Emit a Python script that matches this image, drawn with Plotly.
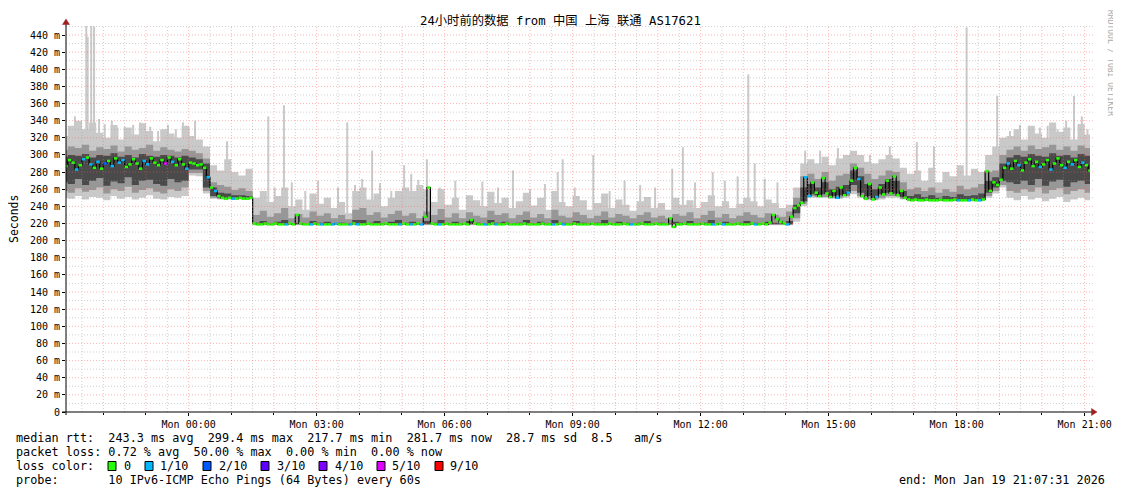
import pandas as pd
import plotly.graph_objects as go

# ---------------- data ----------------
SLOT0 = "2026-01-18 21:00"            # first slot (10-min smoke, 5-min median)
RANGE_START = "2026-01-18 21:07:31"
RANGE_END = "2026-01-19 21:07:31"

# smoke bands, one value per 10-minute slot (ms)
smoke_min = [250, 249, 252, 248, 251, 250, 247, 252, 249, 251, 248, 250, 253, 249, 248, 251, 250, 252, 276,
             275, 255, 249, 248, 248, 248, 248, 248,
             218, 218, 218, 218, 218, 218, 218, 218, 218, 218,
             218, 218, 218, 218, 218, 218, 218, 218, 218, 218,
             218, 218, 218, 218, 218, 218, 218, 218, 218, 218,
             218, 218, 218, 218, 218, 218, 218, 218, 218, 218,
             218, 218, 218, 218, 218, 218, 218, 218, 218, 218,
             218, 218, 218, 218, 218, 218, 218, 218, 218, 218,
             218, 218, 218, 218, 218, 218, 218, 218, 218, 218,
             218, 218, 218, 218, 218, 218,
             222, 240, 250, 250, 250, 249, 249, 250, 254, 250, 247, 247, 248, 250, 250, 248,
             246, 246, 246, 246, 246, 246, 246, 246, 246, 246, 246,
             250, 255, 262,
             250, 247, 252, 248, 250, 246, 249, 251, 245, 248, 250, 247]
smoke_lo2 = [258, 256, 261, 257, 259, 262, 255, 260, 258, 263, 256, 259, 261, 257, 255, 260, 258, 262, 279,
             279, 258, 250, 249, 249, 249, 249, 249,
             219, 219, 219, 219, 219, 219, 219, 219, 219, 219,
             219, 219, 219, 219, 219, 219, 219, 219, 219, 219,
             219, 219, 219, 219, 219, 219, 219, 219, 219, 219,
             219, 219, 219, 219, 219, 219, 219, 219, 219, 219,
             219, 219, 219, 219, 219, 219, 219, 219, 219, 219,
             219, 219, 219, 219, 219, 219, 219, 219, 219, 219,
             219, 219, 219, 219, 219, 219, 219, 219, 219, 219,
             219, 219, 219, 219, 219, 219,
             226, 243, 252, 251, 251, 250, 250, 252, 258, 252, 249, 248, 250, 252, 252, 249,
             247, 247, 247, 247, 247, 247, 247, 247, 247, 247, 247,
             252, 258, 265,
             258, 256, 260, 257, 262, 255, 259, 261, 254, 258, 260, 256]
smoke_lo3 = [268, 266, 272, 265, 270, 273, 264, 269, 267, 274, 265, 270, 271, 266, 264, 272, 268, 270, 283,
             283, 262, 252, 250, 250, 250, 250, 250,
             219, 219, 219, 219, 219, 219, 219, 219, 219, 219,
             219, 219, 219, 219, 219, 219, 219, 219, 219, 219,
             219, 219, 219, 219, 219, 219, 219, 219, 219, 219,
             219, 219, 219, 219, 219, 219, 219, 219, 219, 219,
             219, 219, 219, 219, 219, 219, 219, 219, 219, 219,
             219, 219, 219, 219, 219, 219, 219, 219, 219, 219,
             219, 219, 219, 219, 219, 219, 219, 219, 219, 219,
             219, 219, 219, 219, 219, 219,
             232, 246, 254, 253, 254, 252, 253, 254, 265, 256, 252, 250, 254, 256, 255, 251,
             247, 248, 247, 248, 247, 248, 247, 248, 247, 248, 248,
             256, 262, 270,
             268, 266, 270, 265, 272, 264, 269, 271, 263, 268, 270, 266]
smoke_hi3 = [298, 300, 299, 301, 297, 300, 299, 302, 298, 300, 297, 301, 299, 298, 300, 299, 297, 299, 297,
             295, 290, 262, 256, 255, 253, 253, 252,
             221, 223, 220, 222, 224, 220, 221, 220, 223, 221,
             222, 220, 221, 220, 224, 224, 221, 223, 220, 222,
             224, 221, 222, 220, 223, 221, 224, 220, 222, 220,
             223, 221, 220, 224, 221, 222, 220, 221, 224, 220,
             222, 220, 224, 221, 220, 223, 221, 220, 221, 224,
             220, 222, 221, 220, 221, 223, 220, 221, 220, 222,
             221, 223, 220, 221, 224, 220, 222, 220, 221, 223,
             221, 220, 222, 221, 220, 223,
             242, 262, 266, 262, 268, 260, 263, 265, 282, 275, 266, 260, 266, 272, 270, 258,
             252, 254, 251, 253, 250, 252, 251, 254, 252, 253, 255,
             270, 274, 290,
             297, 300, 298, 301, 299, 298, 302, 299, 300, 297, 301, 299]
smoke_hi2 = [306, 310, 308, 312, 305, 309, 307, 311, 304, 310, 306, 308, 312, 305, 309, 306, 304, 307, 305,
             302, 296, 268, 265, 263, 259, 261, 258,
             230, 235, 228, 232, 238, 226, 231, 227, 234, 229,
             232, 226, 230, 225, 236, 238, 230, 233, 227, 231,
             235, 229, 232, 226, 234, 230, 237, 227, 232, 226,
             233, 229, 227, 235, 230, 232, 226, 230, 234, 227,
             231, 226, 236, 229, 227, 233, 230, 226, 229, 234,
             227, 231, 229, 226, 230, 233, 227, 229, 226, 231,
             229, 233, 226, 230, 235, 227, 231, 226, 229, 233,
             230, 227, 232, 230, 228, 234,
             250, 275, 278, 272, 280, 270, 276, 278, 290, 285, 278, 272, 276, 282, 280, 268,
             260, 262, 258, 262, 256, 260, 257, 264, 260, 262, 266,
             280, 282, 300,
             306, 310, 305, 311, 307, 309, 312, 306, 310, 305, 311, 308]
smoke_max = [322, 334, 340, 330, 338, 326, 320, 335, 318, 332, 324, 337, 328, 316, 330, 325, 320, 334, 322,
             318, 310, 288, 282, 295, 280, 276, 284,
             250, 258, 245, 252, 262, 240, 248, 236, 255, 243,
             250, 238, 245, 232, 258, 262, 248, 255, 240, 250,
             258, 262, 258, 265, 260, 245, 260, 242, 250, 236,
             253, 247, 240, 257, 244, 250, 238, 246, 256, 241,
             250, 236, 258, 245, 240, 252, 247, 236, 244, 255,
             238, 248, 242, 235, 246, 251, 238, 244, 236, 250,
             242, 247, 238, 245, 253, 240, 246, 238, 243, 250,
             246, 240, 248, 244, 238, 242,
             262, 290, 295, 290, 298, 288, 296, 300, 305, 300, 292, 290, 295, 300, 296, 285,
             278, 282, 270, 285, 268, 280, 275, 288, 276, 284, 280,
             300, 310, 320,
             322, 330, 318, 334, 325, 320, 338, 327, 332, 318, 336, 324]

# median rtt, one value per 5-minute slot (ms)
median_rtt = [290, 287, 294, 291, 283, 288, 295, 297, 289, 285, 292, 284, 290, 293, 287, 296, 291, 294, 286, 289,
              295, 290, 284, 293, 289, 296, 291, 288, 294, 290, 297, 292, 288, 295, 289, 284, 291,
              290, 288, 289, 285, 274, 262, 258, 252, 250, 249, 250, 249, 249, 250, 249, 249, 250,
              220, 219, 219, 220, 219, 219, 220, 219, 219, 219,
              220, 219, 230, 220, 219, 219, 219, 220, 219, 219,
              219, 219, 219, 220, 219, 219, 219, 219, 220, 219,
              219, 219, 220, 219, 219, 219, 219, 220, 219, 219,
              219, 219, 220, 219, 219, 219, 220, 219, 228, 262,
              220, 219, 219, 219, 220, 219, 219, 219, 219, 220,
              219, 224, 220, 219, 219, 219, 219, 220, 219, 219,
              219, 220, 219, 219, 219, 219, 220, 219, 219, 219,
              219, 220, 219, 219, 219, 219, 220, 219, 219, 219,
              220, 219, 219, 219, 219, 220, 219, 219, 219, 219,
              220, 219, 219, 219, 220, 219, 219, 219, 219, 220,
              219, 219, 219, 220, 219, 219, 219, 226, 216, 219,
              219, 220, 219, 219, 219, 219, 220, 219, 219, 219,
              219, 220, 219, 219, 219, 219, 220, 219, 219, 219,
              220, 219, 219, 220, 219, 221, 230, 225, 222, 220, 219,
              228, 238, 241, 244, 274, 252, 268, 256, 252, 273, 255, 251, 258, 250, 262, 253, 256, 270,
              285, 272, 252, 249, 266, 248, 251, 262, 254, 270, 255, 275, 253, 258, 250, 248,
              247, 248, 247, 247, 248, 247, 247, 247, 248, 247, 247, 247, 248, 247, 247, 247, 247, 248,
              247, 247, 248,
              281, 258, 268, 265, 271, 285,
              290, 284, 293, 288, 282, 291, 295, 287, 292, 286, 289, 294, 283, 290, 296, 288, 285, 292,
              289, 294, 286, 291, 288, 282]

# slots (5-min index) where packets were lost, and how many of 10
loss_slot = [4, 6, 8, 10, 12, 14, 16, 17, 23, 24, 29, 31, 35, 41, 43, 48,
             63, 70, 73, 76, 77, 81, 83, 95, 98, 101, 106, 119, 122, 138, 141, 160, 183, 186, 195, 204,
             209, 210, 218, 221, 224, 229, 252, 255, 258,
             266, 269, 275, 278, 282, 284, 287]
loss_tenths = [1, 1, 1, 1, 2, 1, 1, 1, 1, 1, 5, 1, 1, 1, 1, 1,
               1, 1, 1, 1, 1, 1, 1, 1, 1, 1, 1, 1, 1, 1, 1, 1, 1, 1, 1, 1,
               1, 1, 1, 1, 1, 1, 1, 1, 1,
               1, 1, 1, 1, 1, 1, 1]

# single outlier pings (time, highest rtt ms)
spike_time = ["2026-01-18 21:13", "2026-01-18 21:20", "2026-01-18 21:27", "2026-01-18 21:36",
              "2026-01-18 21:38", "2026-01-18 21:43", "2026-01-18 21:47", "2026-01-18 21:54",
              "2026-01-18 22:02", "2026-01-18 22:12", "2026-01-18 22:20", "2026-01-18 22:30",
              "2026-01-18 22:42", "2026-01-18 22:52", "2026-01-18 23:06", "2026-01-18 23:17",
              "2026-01-18 23:31", "2026-01-18 23:42", "2026-01-18 23:52",
              "2026-01-19 00:00", "2026-01-19 00:09", "2026-01-19 00:54", "2026-01-19 01:43",
              "2026-01-19 01:52", "2026-01-19 02:01", "2026-01-19 02:14", "2026-01-19 02:25",
              "2026-01-19 02:44", "2026-01-19 03:02", "2026-01-19 03:30", "2026-01-19 03:43",
              "2026-01-19 03:54", "2026-01-19 04:04", "2026-01-19 04:18", "2026-01-19 04:29",
              "2026-01-19 04:45", "2026-01-19 05:03", "2026-01-19 05:13", "2026-01-19 05:23",
              "2026-01-19 05:35", "2026-01-19 05:53", "2026-01-19 06:15", "2026-01-19 06:53",
              "2026-01-19 07:15", "2026-01-19 07:36", "2026-01-19 08:00", "2026-01-19 08:21",
              "2026-01-19 08:39", "2026-01-19 08:46", "2026-01-19 09:03", "2026-01-19 09:29",
              "2026-01-19 09:52", "2026-01-19 10:13", "2026-01-19 10:35", "2026-01-19 10:56",
              "2026-01-19 11:20", "2026-01-19 11:35", "2026-01-19 11:52", "2026-01-19 12:17",
              "2026-01-19 12:34", "2026-01-19 12:52", "2026-01-19 13:07", "2026-01-19 13:16",
              "2026-01-19 13:30", "2026-01-19 13:48", "2026-01-19 14:27", "2026-01-19 14:48",
              "2026-01-19 15:13", "2026-01-19 15:58", "2026-01-19 16:26", "2026-01-19 17:04",
              "2026-01-19 17:28", "2026-01-19 18:14", "2026-01-19 18:57", "2026-01-19 19:15",
              "2026-01-19 19:29", "2026-01-19 19:43", "2026-01-19 19:57", "2026-01-19 20:08",
              "2026-01-19 20:22", "2026-01-19 20:34", "2026-01-19 20:45", "2026-01-19 20:56",
              "2026-01-19 21:04"]
spike_top = [330, 345, 338, 451, 438, 451, 450, 342,
             336, 340, 332, 333, 335, 338, 333, 328,
             335, 330, 338,
             333, 340, 316, 255, 345, 262, 358, 268,
             258, 270, 262, 338, 265, 272, 305, 267,
             258, 288, 278, 271, 295, 262, 270, 269,
             262, 282, 260, 266, 280, 295, 262, 300,
             258, 270, 265, 262, 284, 309, 268, 280,
             270, 275, 394, 290, 272, 268, 305, 305,
             308, 300, 310, 315, 310, 449, 369, 328,
             335, 325, 332, 334, 330, 340, 369, 345,
             330]

x_tick_times = ["2026-01-19 00:00", "2026-01-19 03:00", "2026-01-19 06:00", "2026-01-19 09:00",
                "2026-01-19 12:00", "2026-01-19 15:00", "2026-01-19 18:00", "2026-01-19 21:00"]
x_tick_labels = ["Mon 00:00", "Mon 03:00", "Mon 06:00", "Mon 09:00",
                 "Mon 12:00", "Mon 15:00", "Mon 18:00", "Mon 21:00"]
y_tick_values = [0, 20, 40, 60, 80, 100, 120, 140, 160, 180, 200, 220, 240, 260, 280, 300,
                 320, 340, 360, 380, 400, 420, 440]
y_tick_labels = ["0"] + [f"{v} m" for v in y_tick_values[1:]]
Y_MAX = 450.5

loss_labels = ["0", "1/10", "2/10", "3/10", "4/10", "5/10", "9/10"]
loss_level_tenths = [0, 1, 2, 3, 4, 5, 9]
loss_colors = ["#26ff00", "#00b8ff", "#0059ff", "#5e00ff", "#7e00ff", "#dd00ff", "#ff0000"]

legend_lines = [
    "median rtt:  243.3 ms avg  299.4 ms max  217.7 ms min  281.7 ms now  28.7 ms sd  8.5   am/s",
    "packet loss: 0.72 % avg  50.00 % max  0.00 % min  0.00 % now",
    "loss color:",
    "probe:       10 IPv6-ICMP Echo Pings (64 Bytes) every 60s",
]
end_text = "end: Mon Jan 19 21:07:31 2026"
title_text = "24小时前的数据 from 中国 上海 联通 AS17621"

for arr in (smoke_lo2, smoke_lo3, smoke_hi3, smoke_hi2, smoke_max):
    assert len(arr) == len(smoke_min), len(arr)
assert len(median_rtt) == 290, len(median_rtt)
assert len(loss_slot) == len(loss_tenths)
assert len(spike_time) == len(spike_top), (len(spike_time), len(spike_top))

# ---------------- styling ----------------
# The page body has an 8px default margin; all positions below are window
# pixels, converted to figure pixels by subtracting OFF.
OFF = 8
WIN_W, WIN_H = 1121, 494
W, H = WIN_W - OFF, WIN_H - OFF
L, R, T, B = 66, 1090, 26, 412          # plot area in window pixels
MONO = "DejaVu Sans Mono"
SMOKE1, SMOKE2, SMOKE3 = "#c9c9c9", "#979797", "#4a4a4a"
MGRID = "rgba(255,90,90,0.45)"
MINGRID = "rgba(150,150,150,0.45)"
GRID_DASH = "1px,2px"
AXIS_ARROW = "#a02020"


def px(xp):
    return (xp - L) / (R - L)


def py(yp):
    return (B - yp) / (B - T)


def nb(s):
    return s.replace(" ", "\u00a0")


t0 = pd.Timestamp(SLOT0)
smoke_t = [t0 + pd.Timedelta(minutes=10 * i) for i in range(len(smoke_min) + 1)]
med_t = [t0 + pd.Timedelta(minutes=5 * i) for i in range(len(median_rtt) + 1)]


def ext(a):
    return list(a) + [a[-1]]


fig = go.Figure()

# outlier spikes (drawn under the smoke bands)
sx, sy = [], []
for ts, top in zip(spike_time, spike_top):
    t = pd.Timestamp(ts)
    k = int((t - t0) / pd.Timedelta(minutes=10))
    sx += [t, t, None]
    sy += [smoke_min[k] + 1, top, None]
fig.add_trace(go.Scatter(x=sx, y=sy, mode="lines", line=dict(color=SMOKE1, width=2),
                         hoverinfo="skip", showlegend=False))

# smoke bands
for lo, hi, col in [(smoke_min, smoke_max, SMOKE1),
                    (smoke_lo2, smoke_hi2, SMOKE2),
                    (smoke_lo3, smoke_hi3, SMOKE3)]:
    fig.add_trace(go.Scatter(x=smoke_t, y=ext(lo), mode="lines",
                             line=dict(width=0, shape="hv"), hoverinfo="skip", showlegend=False))
    fig.add_trace(go.Scatter(x=smoke_t, y=ext(hi), mode="lines", fill="tonexty", fillcolor=col,
                             line=dict(width=0, shape="hv"), hoverinfo="skip", showlegend=False))

# median line (black connections) + loss-coloured steps
fig.add_trace(go.Scatter(x=med_t, y=ext(median_rtt), mode="lines",
                         line=dict(color="#000000", width=1.2, shape="hv"),
                         hoverinfo="skip", showlegend=False))
loss_of = dict(zip(loss_slot, loss_tenths))
for tenth, col in zip(loss_level_tenths, loss_colors):
    xs, ys = [], []
    for j, m in enumerate(median_rtt):
        if loss_of.get(j, 0) == tenth:
            xs += [med_t[j], med_t[j + 1], None]
            ys += [m, m, None]
    if xs:
        fig.add_trace(go.Scatter(x=xs, y=ys, mode="lines", line=dict(color=col, width=2.5),
                                 hoverinfo="skip", showlegend=False))

# ---------------- grid (drawn above data, like rrdtool) ----------------
shapes = []
hours = pd.date_range("2026-01-18 22:00", "2026-01-19 21:00", freq="1h")
halves = pd.date_range("2026-01-18 21:30", "2026-01-19 20:30", freq="1h")
for t in halves:
    shapes.append(dict(type="line", xref="x", yref="paper", x0=t, x1=t, y0=0, y1=1, layer="above",
                       line=dict(color=MINGRID, width=1, dash=GRID_DASH)))
for t in hours:
    shapes.append(dict(type="line", xref="x", yref="paper", x0=t, x1=t, y0=0, y1=1, layer="above",
                       line=dict(color=MGRID, width=1, dash=GRID_DASH)))
for v in range(10, 451, 20):
    shapes.append(dict(type="line", xref="paper", yref="y", x0=0, x1=px(1093), y0=v, y1=v, layer="above",
                       line=dict(color=MINGRID, width=1, dash=GRID_DASH)))
for v in y_tick_values[1:]:
    shapes.append(dict(type="line", xref="paper", yref="y", x0=0, x1=px(1093), y0=v, y1=v, layer="above",
                       line=dict(color=MGRID, width=1, dash=GRID_DASH)))

# axes lines + arrows
shapes.append(dict(type="line", xref="paper", yref="paper", x0=px(62), x1=px(1092), y0=0, y1=0,
                   layer="above", line=dict(color="#000000", width=1)))
shapes.append(dict(type="line", xref="paper", yref="paper", x0=0, x1=0, y0=py(415), y1=py(24),
                   layer="above", line=dict(color="#000000", width=1)))
shapes.append(dict(type="path", xref="paper", yref="paper", layer="above",
                   path=f"M {px(62.5)},{py(24.5)} L {px(69.5)},{py(24.5)} L {px(66)},{py(19)} Z",
                   fillcolor=AXIS_ARROW, line=dict(color=AXIS_ARROW, width=0.5)))
shapes.append(dict(type="path", xref="paper", yref="paper", layer="above",
                   path=f"M {px(1091.5)},{py(408.5)} L {px(1091.5)},{py(415.5)} L {px(1097)},{py(412)} Z",
                   fillcolor=AXIS_ARROW, line=dict(color=AXIS_ARROW, width=0.5)))

# loss colour legend boxes
box_x = [108, 145, 203, 261, 319, 377, 435]
lab_x = [124, 160, 219, 277, 335, 392, 450]
for bx, col in zip(box_x, loss_colors):
    shapes.append(dict(type="rect", xref="paper", yref="paper", x0=px(bx), x1=px(bx + 8),
                       y0=py(470.5), y1=py(461.5), fillcolor=col, layer="above",
                       line=dict(color="#000000", width=1)))

annotations = []


def ann(text, x, y, size, xanchor="left", yanchor="middle", color="#000000", angle=0, family=MONO):
    annotations.append(dict(text=text, x=px(x), y=py(y), xref="paper", yref="paper",
                            xanchor=xanchor, yanchor=yanchor, showarrow=False, textangle=angle,
                            borderpad=0, borderwidth=0,
                            font=dict(family=family, size=size, color=color)))


ann(nb(title_text), 560, 21, 12.3, xanchor="center", family="DejaVu Sans Mono, Noto Sans CJK SC")
ann("Seconds", 14, 219, 11.5, xanchor="center", angle=-90)
ann("RRDTOOL / TOBI OETIKER", 1111, 63, 8, xanchor="center", angle=90, color="#aaaaaa")
for i, line in enumerate(legend_lines):
    ann(nb(line), 16, 438 + 14 * i, 11.8)
for lx, lab in zip(lab_x, loss_labels):
    ann(lab, lx, 466, 11.8)
ann(nb(end_text), 1105, 480, 11.8, xanchor="right")

fig.update_layout(
    width=W, height=H,
    margin=dict(l=L - OFF, r=WIN_W - R, t=T - OFF, b=WIN_H - B, pad=0, autoexpand=False),
    paper_bgcolor="white", plot_bgcolor="white", showlegend=False,
    shapes=shapes, annotations=annotations,
    xaxis=dict(type="date", range=[RANGE_START, RANGE_END], showgrid=False, zeroline=False,
               showline=False, automargin=False,
               tickmode="array", tickvals=x_tick_times, ticktext=x_tick_labels,
               ticks="outside", ticklen=3, tickcolor="#000000", tickwidth=1,
               tickfont=dict(family=MONO, size=10, color="#000000"),
               minor=dict(tickmode="array", tickvals=list(hours), ticks="outside", ticklen=2,
                          tickcolor="#000000", showgrid=False)),
    yaxis=dict(range=[0, Y_MAX], showgrid=False, zeroline=False, showline=False, automargin=False,
               tickmode="array", tickvals=y_tick_values, ticktext=y_tick_labels,
               ticks="outside", ticklen=3, tickcolor="#000000", tickwidth=1,
               tickfont=dict(family=MONO, size=10, color="#000000")),
)

fig.write_html("out.html")
